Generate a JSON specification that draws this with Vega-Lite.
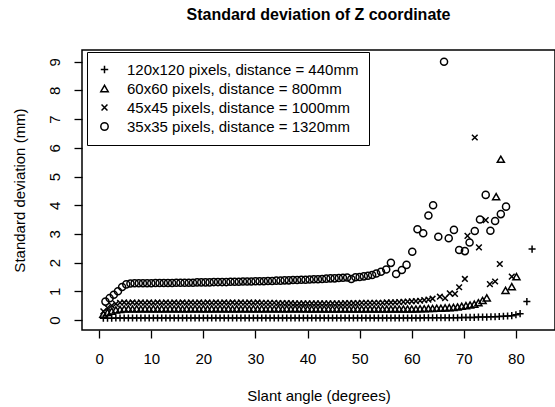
{
"$schema": "https://vega.github.io/schema/vega-lite/v6.json",
"width": 473, "height": 280,
"autosize": {"type": "none"},
"padding": {"left": 82, "top": 50, "right": 0, "bottom": 77},
"background": "white",
"config": {"font": "Liberation Sans", "view": {"stroke": "black", "strokeWidth": 1.5}},
"title": {"text": "Standard deviation of Z coordinate", "fontSize": 16, "fontWeight": "bold", "color": "black", "anchor": "middle", "offset": 27, "font": "Liberation Sans"},
"data": {"values": [
{"s":"a","x":0.8,"y":0.06},{"s":"a","x":1.6,"y":0.06},{"s":"a","x":2.4,"y":0.06},{"s":"a","x":3.2,"y":0.07},{"s":"a","x":4.0,"y":0.07},{"s":"a","x":4.8,"y":0.07},{"s":"a","x":5.6,"y":0.07},{"s":"a","x":6.4,"y":0.07},{"s":"a","x":7.2,"y":0.07},{"s":"a","x":8.0,"y":0.07},
{"s":"a","x":8.8,"y":0.07},{"s":"a","x":9.6,"y":0.07},{"s":"a","x":10.4,"y":0.07},{"s":"a","x":11.2,"y":0.07},{"s":"a","x":12.0,"y":0.07},{"s":"a","x":12.8,"y":0.07},{"s":"a","x":13.6,"y":0.07},{"s":"a","x":14.4,"y":0.07},{"s":"a","x":15.2,"y":0.07},{"s":"a","x":16.0,"y":0.07},
{"s":"a","x":16.8,"y":0.07},{"s":"a","x":17.6,"y":0.07},{"s":"a","x":18.4,"y":0.07},{"s":"a","x":19.2,"y":0.07},{"s":"a","x":20.0,"y":0.07},{"s":"a","x":20.8,"y":0.07},{"s":"a","x":21.6,"y":0.07},{"s":"a","x":22.4,"y":0.07},{"s":"a","x":23.2,"y":0.07},{"s":"a","x":24.0,"y":0.07},
{"s":"a","x":24.8,"y":0.07},{"s":"a","x":25.6,"y":0.07},{"s":"a","x":26.4,"y":0.07},{"s":"a","x":27.2,"y":0.07},{"s":"a","x":28.0,"y":0.07},{"s":"a","x":28.8,"y":0.07},{"s":"a","x":29.6,"y":0.07},{"s":"a","x":30.4,"y":0.07},{"s":"a","x":31.2,"y":0.07},{"s":"a","x":32.0,"y":0.07},
{"s":"a","x":32.8,"y":0.07},{"s":"a","x":33.6,"y":0.07},{"s":"a","x":34.4,"y":0.07},{"s":"a","x":35.2,"y":0.07},{"s":"a","x":36.0,"y":0.07},{"s":"a","x":36.8,"y":0.07},{"s":"a","x":37.6,"y":0.07},{"s":"a","x":38.4,"y":0.07},{"s":"a","x":39.2,"y":0.07},{"s":"a","x":40.0,"y":0.07},
{"s":"a","x":40.8,"y":0.07},{"s":"a","x":41.6,"y":0.07},{"s":"a","x":42.4,"y":0.07},{"s":"a","x":43.2,"y":0.07},{"s":"a","x":44.0,"y":0.07},{"s":"a","x":44.8,"y":0.07},{"s":"a","x":45.6,"y":0.07},{"s":"a","x":46.4,"y":0.07},{"s":"a","x":47.2,"y":0.07},{"s":"a","x":48.0,"y":0.07},
{"s":"a","x":48.8,"y":0.07},{"s":"a","x":49.6,"y":0.07},{"s":"a","x":50.4,"y":0.07},{"s":"a","x":51.2,"y":0.07},{"s":"a","x":52.0,"y":0.07},{"s":"a","x":52.8,"y":0.07},{"s":"a","x":53.6,"y":0.07},{"s":"a","x":54.4,"y":0.07},{"s":"a","x":55.2,"y":0.07},{"s":"a","x":56.0,"y":0.07},
{"s":"a","x":56.8,"y":0.07},{"s":"a","x":57.6,"y":0.07},{"s":"a","x":58.4,"y":0.07},{"s":"a","x":59.2,"y":0.07},{"s":"a","x":60.0,"y":0.07},{"s":"a","x":60.8,"y":0.07},{"s":"a","x":61.6,"y":0.07},{"s":"a","x":62.4,"y":0.08},{"s":"a","x":63.2,"y":0.08},{"s":"a","x":64.0,"y":0.08},
{"s":"a","x":64.8,"y":0.08},{"s":"a","x":65.6,"y":0.08},{"s":"a","x":66.4,"y":0.08},{"s":"a","x":67.2,"y":0.08},{"s":"a","x":68.0,"y":0.08},{"s":"a","x":68.8,"y":0.08},{"s":"a","x":69.6,"y":0.09},{"s":"a","x":70.4,"y":0.09},{"s":"a","x":71.2,"y":0.09},{"s":"a","x":72.0,"y":0.09},
{"s":"a","x":72.8,"y":0.1},{"s":"a","x":73.6,"y":0.1},{"s":"a","x":74.4,"y":0.1},{"s":"a","x":75.2,"y":0.11},{"s":"a","x":76.0,"y":0.11},{"s":"a","x":76.8,"y":0.12},{"s":"a","x":77.6,"y":0.13},{"s":"a","x":78.4,"y":0.14},{"s":"a","x":79.2,"y":0.15},{"s":"a","x":80.0,"y":0.18},
{"s":"a","x":80.8,"y":0.22},{"s":"a","x":82.1,"y":0.64},{"s":"a","x":83.1,"y":2.47},
{"s":"b","x":0.8,"y":0.2},{"s":"b","x":1.6,"y":0.26},{"s":"b","x":2.4,"y":0.31},{"s":"b","x":3.2,"y":0.35},{"s":"b","x":4.0,"y":0.37},{"s":"b","x":4.8,"y":0.38},{"s":"b","x":5.6,"y":0.39},{"s":"b","x":6.4,"y":0.38},{"s":"b","x":7.2,"y":0.39},{"s":"b","x":8.0,"y":0.38},
{"s":"b","x":8.8,"y":0.39},{"s":"b","x":9.6,"y":0.38},{"s":"b","x":10.4,"y":0.39},{"s":"b","x":11.2,"y":0.38},{"s":"b","x":12.0,"y":0.39},{"s":"b","x":12.8,"y":0.38},{"s":"b","x":13.6,"y":0.39},{"s":"b","x":14.4,"y":0.38},{"s":"b","x":15.2,"y":0.39},{"s":"b","x":16.0,"y":0.38},
{"s":"b","x":16.8,"y":0.39},{"s":"b","x":17.6,"y":0.38},{"s":"b","x":18.4,"y":0.39},{"s":"b","x":19.2,"y":0.38},{"s":"b","x":20.0,"y":0.39},{"s":"b","x":20.8,"y":0.38},{"s":"b","x":21.6,"y":0.39},{"s":"b","x":22.4,"y":0.38},{"s":"b","x":23.2,"y":0.39},{"s":"b","x":24.0,"y":0.38},
{"s":"b","x":24.8,"y":0.39},{"s":"b","x":25.6,"y":0.38},{"s":"b","x":26.4,"y":0.39},{"s":"b","x":27.2,"y":0.38},{"s":"b","x":28.0,"y":0.39},{"s":"b","x":28.8,"y":0.38},{"s":"b","x":29.6,"y":0.39},{"s":"b","x":30.4,"y":0.38},{"s":"b","x":31.2,"y":0.39},{"s":"b","x":32.0,"y":0.38},
{"s":"b","x":32.8,"y":0.39},{"s":"b","x":33.6,"y":0.38},{"s":"b","x":34.4,"y":0.39},{"s":"b","x":35.2,"y":0.38},{"s":"b","x":36.0,"y":0.39},{"s":"b","x":36.8,"y":0.38},{"s":"b","x":37.6,"y":0.39},{"s":"b","x":38.4,"y":0.38},{"s":"b","x":39.2,"y":0.39},{"s":"b","x":40.0,"y":0.38},
{"s":"b","x":40.8,"y":0.38},{"s":"b","x":41.6,"y":0.38},{"s":"b","x":42.4,"y":0.38},{"s":"b","x":43.2,"y":0.38},{"s":"b","x":44.0,"y":0.38},{"s":"b","x":44.8,"y":0.38},{"s":"b","x":45.6,"y":0.38},{"s":"b","x":46.4,"y":0.38},{"s":"b","x":47.2,"y":0.38},{"s":"b","x":48.0,"y":0.38},
{"s":"b","x":48.8,"y":0.38},{"s":"b","x":49.6,"y":0.38},{"s":"b","x":50.4,"y":0.38},{"s":"b","x":51.2,"y":0.38},{"s":"b","x":52.0,"y":0.38},{"s":"b","x":52.8,"y":0.38},{"s":"b","x":53.6,"y":0.38},{"s":"b","x":54.4,"y":0.38},{"s":"b","x":55.2,"y":0.38},{"s":"b","x":56.0,"y":0.38},
{"s":"b","x":56.8,"y":0.38},{"s":"b","x":57.6,"y":0.38},{"s":"b","x":58.4,"y":0.38},{"s":"b","x":59.2,"y":0.38},{"s":"b","x":60.0,"y":0.38},{"s":"b","x":60.8,"y":0.38},{"s":"b","x":61.6,"y":0.39},{"s":"b","x":62.4,"y":0.39},{"s":"b","x":63.2,"y":0.4},{"s":"b","x":64.0,"y":0.4},
{"s":"b","x":64.8,"y":0.41},{"s":"b","x":65.6,"y":0.41},{"s":"b","x":66.4,"y":0.42},{"s":"b","x":67.2,"y":0.43},{"s":"b","x":68.0,"y":0.44},{"s":"b","x":68.8,"y":0.45},{"s":"b","x":69.6,"y":0.48},{"s":"b","x":70.4,"y":0.5},{"s":"b","x":71.2,"y":0.52},{"s":"b","x":72.0,"y":0.55},
{"s":"b","x":72.8,"y":0.6},{"s":"b","x":73.6,"y":0.68},{"s":"b","x":74.4,"y":0.77},{"s":"b","x":76.2,"y":4.3},{"s":"b","x":77.1,"y":5.6},{"s":"b","x":78.0,"y":1.03},{"s":"b","x":79.2,"y":1.16},{"s":"b","x":80.1,"y":1.51},
{"s":"c","x":0.8,"y":0.3},{"s":"c","x":1.6,"y":0.42},{"s":"c","x":2.4,"y":0.5},{"s":"c","x":3.2,"y":0.56},{"s":"c","x":4.0,"y":0.6},{"s":"c","x":4.8,"y":0.61},{"s":"c","x":5.6,"y":0.6},{"s":"c","x":6.4,"y":0.61},{"s":"c","x":7.2,"y":0.6},{"s":"c","x":8.0,"y":0.61},
{"s":"c","x":8.8,"y":0.6},{"s":"c","x":9.6,"y":0.61},{"s":"c","x":10.4,"y":0.6},{"s":"c","x":11.2,"y":0.61},{"s":"c","x":12.0,"y":0.6},{"s":"c","x":12.8,"y":0.61},{"s":"c","x":13.6,"y":0.6},{"s":"c","x":14.4,"y":0.61},{"s":"c","x":15.2,"y":0.6},{"s":"c","x":16.0,"y":0.61},
{"s":"c","x":16.8,"y":0.6},{"s":"c","x":17.6,"y":0.61},{"s":"c","x":18.4,"y":0.6},{"s":"c","x":19.2,"y":0.61},{"s":"c","x":20.0,"y":0.6},{"s":"c","x":20.8,"y":0.61},{"s":"c","x":21.6,"y":0.6},{"s":"c","x":22.4,"y":0.61},{"s":"c","x":23.2,"y":0.6},{"s":"c","x":24.0,"y":0.61},
{"s":"c","x":24.8,"y":0.6},{"s":"c","x":25.6,"y":0.61},{"s":"c","x":26.4,"y":0.6},{"s":"c","x":27.2,"y":0.61},{"s":"c","x":28.0,"y":0.6},{"s":"c","x":28.8,"y":0.61},{"s":"c","x":29.6,"y":0.6},{"s":"c","x":30.4,"y":0.61},{"s":"c","x":31.2,"y":0.6},{"s":"c","x":32.0,"y":0.6},
{"s":"c","x":32.8,"y":0.6},{"s":"c","x":33.6,"y":0.6},{"s":"c","x":34.4,"y":0.59},{"s":"c","x":35.2,"y":0.59},{"s":"c","x":36.0,"y":0.59},{"s":"c","x":36.8,"y":0.59},{"s":"c","x":37.6,"y":0.58},{"s":"c","x":38.4,"y":0.58},{"s":"c","x":39.2,"y":0.58},{"s":"c","x":40.0,"y":0.58},
{"s":"c","x":40.8,"y":0.58},{"s":"c","x":41.6,"y":0.58},{"s":"c","x":42.4,"y":0.58},{"s":"c","x":43.2,"y":0.58},{"s":"c","x":44.0,"y":0.58},{"s":"c","x":44.8,"y":0.58},{"s":"c","x":45.6,"y":0.58},{"s":"c","x":46.4,"y":0.58},{"s":"c","x":47.2,"y":0.59},{"s":"c","x":48.0,"y":0.59},
{"s":"c","x":48.8,"y":0.59},{"s":"c","x":49.6,"y":0.59},{"s":"c","x":50.4,"y":0.6},{"s":"c","x":51.2,"y":0.6},{"s":"c","x":52.0,"y":0.6},{"s":"c","x":52.8,"y":0.6},{"s":"c","x":53.6,"y":0.6},{"s":"c","x":54.4,"y":0.6},{"s":"c","x":55.2,"y":0.61},{"s":"c","x":56.0,"y":0.61},
{"s":"c","x":56.8,"y":0.61},{"s":"c","x":57.6,"y":0.62},{"s":"c","x":58.4,"y":0.63},{"s":"c","x":59.2,"y":0.64},{"s":"c","x":60.0,"y":0.65},{"s":"c","x":60.8,"y":0.66},{"s":"c","x":61.6,"y":0.67},{"s":"c","x":62.4,"y":0.69},{"s":"c","x":63.2,"y":0.71},{"s":"c","x":64.0,"y":0.74},
{"s":"c","x":65.4,"y":0.81},{"s":"c","x":66.4,"y":0.76},{"s":"c","x":67.3,"y":0.93},{"s":"c","x":68.3,"y":0.91},{"s":"c","x":69.1,"y":1.14},{"s":"c","x":70.2,"y":1.43},{"s":"c","x":70.7,"y":2.93},{"s":"c","x":72.1,"y":6.36},{"s":"c","x":72.9,"y":2.53},{"s":"c","x":74.2,"y":3.48},
{"s":"c","x":75.0,"y":1.25},{"s":"c","x":76.0,"y":1.34},{"s":"c","x":76.9,"y":1.95},{"s":"c","x":79.2,"y":1.51},
{"s":"d","x":1.2,"y":0.64},{"s":"d","x":2.0,"y":0.76},{"s":"d","x":2.8,"y":0.88},{"s":"d","x":3.6,"y":1.0},{"s":"d","x":4.4,"y":1.15},{"s":"d","x":5.2,"y":1.24},{"s":"d","x":6.0,"y":1.27},
{"s":"d","x":6.8,"y":1.28},{"s":"d","x":7.6,"y":1.28},{"s":"d","x":8.4,"y":1.28},{"s":"d","x":9.2,"y":1.28},{"s":"d","x":10.0,"y":1.28},{"s":"d","x":10.8,"y":1.29},{"s":"d","x":11.6,"y":1.29},{"s":"d","x":12.4,"y":1.29},{"s":"d","x":13.2,"y":1.29},{"s":"d","x":14.0,"y":1.29},
{"s":"d","x":14.8,"y":1.3},{"s":"d","x":15.6,"y":1.3},{"s":"d","x":16.4,"y":1.3},{"s":"d","x":17.2,"y":1.3},{"s":"d","x":18.0,"y":1.3},{"s":"d","x":18.8,"y":1.31},{"s":"d","x":19.6,"y":1.31},{"s":"d","x":20.4,"y":1.31},{"s":"d","x":21.2,"y":1.31},{"s":"d","x":22.0,"y":1.32},
{"s":"d","x":22.8,"y":1.32},{"s":"d","x":23.6,"y":1.32},{"s":"d","x":24.4,"y":1.32},{"s":"d","x":25.2,"y":1.33},{"s":"d","x":26.0,"y":1.33},{"s":"d","x":26.8,"y":1.33},{"s":"d","x":27.6,"y":1.34},{"s":"d","x":28.4,"y":1.34},{"s":"d","x":29.2,"y":1.34},{"s":"d","x":30.0,"y":1.35},
{"s":"d","x":30.8,"y":1.35},{"s":"d","x":31.6,"y":1.35},{"s":"d","x":32.4,"y":1.36},{"s":"d","x":33.2,"y":1.36},{"s":"d","x":34.0,"y":1.37},{"s":"d","x":34.8,"y":1.37},{"s":"d","x":35.6,"y":1.38},{"s":"d","x":36.4,"y":1.38},{"s":"d","x":37.2,"y":1.39},{"s":"d","x":38.0,"y":1.39},
{"s":"d","x":38.8,"y":1.4},{"s":"d","x":39.6,"y":1.4},{"s":"d","x":40.4,"y":1.41},{"s":"d","x":41.2,"y":1.42},{"s":"d","x":42.0,"y":1.42},{"s":"d","x":42.8,"y":1.43},{"s":"d","x":43.6,"y":1.44},{"s":"d","x":44.4,"y":1.45},{"s":"d","x":45.2,"y":1.45},{"s":"d","x":46.0,"y":1.46},
{"s":"d","x":46.8,"y":1.47},{"s":"d","x":47.6,"y":1.48},{"s":"d","x":48.4,"y":1.43},{"s":"d","x":49.2,"y":1.49},{"s":"d","x":50.0,"y":1.5},{"s":"d","x":50.8,"y":1.52},{"s":"d","x":51.6,"y":1.54},{"s":"d","x":52.4,"y":1.57},{"s":"d","x":53.2,"y":1.62},{"s":"d","x":54.1,"y":1.68},
{"s":"d","x":55.1,"y":1.76},{"s":"d","x":56.0,"y":1.99},{"s":"d","x":57.0,"y":1.6},{"s":"d","x":58.1,"y":1.74},{"s":"d","x":59.0,"y":1.92},{"s":"d","x":60.1,"y":2.38},{"s":"d","x":61.1,"y":3.16},{"s":"d","x":62.2,"y":3.02},{"s":"d","x":63.2,"y":3.64},{"s":"d","x":64.1,"y":4.0},
{"s":"d","x":65.1,"y":2.9},{"s":"d","x":66.2,"y":9.0},{"s":"d","x":67.1,"y":2.85},{"s":"d","x":68.1,"y":3.14},{"s":"d","x":69.1,"y":2.44},{"s":"d","x":70.2,"y":2.4},{"s":"d","x":71.1,"y":2.7},{"s":"d","x":72.1,"y":3.1},{"s":"d","x":73.1,"y":3.5},{"s":"d","x":74.2,"y":4.36},
{"s":"d","x":75.1,"y":3.11},{"s":"d","x":76.0,"y":3.45},{"s":"d","x":77.1,"y":3.69},{"s":"d","x":78.1,"y":3.95}
]},
"mark": {"type": "point", "filled": false, "stroke": "black", "strokeWidth": 1.5, "size": 50, "opacity": 1},
"encoding": {
  "x": {"field": "x", "type": "quantitative",
        "scale": {"domain": [-3.3, 87.5], "nice": false, "zero": false},
        "axis": {"values": [0,10,20,30,40,50,60,70,80], "title": "Slant angle (degrees)", "grid": false, "domain": false,
                 "tickColor": "black", "tickSize": 8, "tickWidth": 1.3, "labelFontSize": 15, "labelColor": "black", "labelPadding": 13,
                 "titleFontSize": 15, "titleFontWeight": "normal", "titleColor": "black", "titlePadding": 22, "labelFont": "Liberation Sans", "titleFont": "Liberation Sans"}},
  "y": {"field": "y", "type": "quantitative",
        "scale": {"domain": [-0.35, 9.41], "nice": false, "zero": false},
        "axis": {"values": [0,1,2,3,4,5,6,7,8,9], "title": "Standard deviation (mm)", "grid": false, "domain": false,
                 "tickColor": "black", "tickSize": 8, "tickWidth": 1.3, "labelFontSize": 15, "labelColor": "black", "labelPadding": 12,
                 "labelAngle": -90, "labelAlign": "center", "labelBaseline": "bottom",
                 "titleFontSize": 15, "titleFontWeight": "normal", "titleColor": "black", "titlePadding": 20, "labelFont": "Liberation Sans", "titleFont": "Liberation Sans"}},
  "shape": {"field": "s", "type": "nominal",
        "scale": {"domain": ["a","b","c","d"], "range": ["M-1,0L1,0M0,-1L0,1", "triangle-up", "M-0.8,-0.8L0.8,0.8M-0.8,0.8L0.8,-0.8", "circle"]},
        "legend": {"orient": "none", "legendX": 5, "legendY": 2, "title": null, "padding": 10, "strokeColor": "black", "fillColor": "white",
                   "labelFontSize": 15, "labelColor": "black", "labelFont": "Liberation Sans", "labelLimit": 400, "labelOffset": 15,
                   "symbolSize": 55, "symbolStrokeColor": "black", "symbolFillColor": "transparent", "symbolStrokeWidth": 1.5, "rowPadding": 3,
                   "labelExpr": "datum.label == 'a' ? '120x120 pixels, distance = 440mm' : datum.label == 'b' ? '60x60 pixels, distance = 800mm' : datum.label == 'c' ? '45x45 pixels, distance = 1000mm' : '35x35 pixels, distance = 1320mm'"}}
}
}
